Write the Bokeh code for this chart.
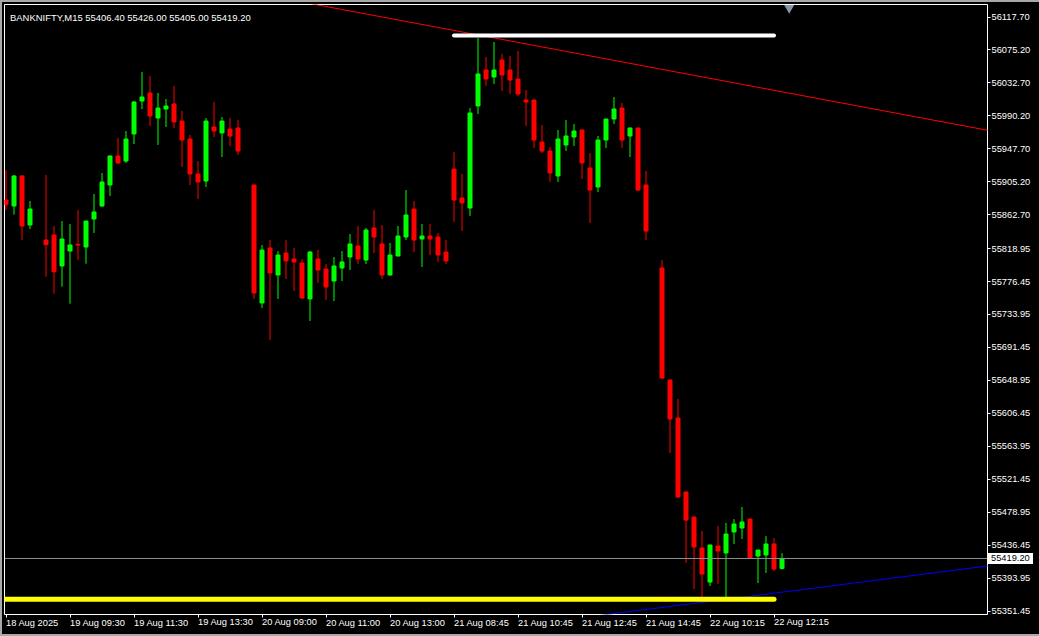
import math
from bokeh.plotting import figure
from bokeh.models import Range1d, FixedTicker, NumeralTickFormatter, Span, Label, ColumnDataSource, Div
from bokeh.embed import file_html
from bokeh.resources import INLINE

NAN = float("nan")

# BANKNIFTY M15 candles (index = bar number); NaN = doji bars drawn invisibly
opens = [55881.6, 55873.9, 55912.6, 55849.4, NAN, 55830.0, 55836.5, 55796.5, 55815.8, 55824.5,
         55821.0, 55857.1, 55873.9, 55901.0, 55938.4, 55931.9, 55966.8, 56009.3, 56019.7, 55987.4,
         55999.0, 56005.5, 55983.5, 55960.3, 55915.2, 55906.1, 55975.8, 55968.1, 55973.2, 55974.5,
         NAN, 55901.0, 55748.8, 55819.7, 55784.9, 55813.3, 55805.5, 55800.4, 55754.0, 55805.5,
         55792.6, 55777.1, 55793.9, 55808.1, 55822.3, 55804.2, 55845.5, 55824.9, 55784.9, 55809.4,
         55833.9, 55870.0, 55831.3, 55835.2, 55833.9, 55814.5, 55921.6, 55884.2, 55871.3, 56002.9,
         56049.3, 56040.3, 56062.2, 56049.3, 56037.7, 56010.6, 56010.6, 55956.4, 55944.8, 55912.6,
         55952.6, 55962.9, 55971.9, 55922.9, 55898.4, 55959.0, 55986.1, 56000.3, 55964.2, 55974.5,
         55901.0, NAN, 55793.9, 55649.4, 55600.4, 55505.0, 55472.7, 55432.7, 55388.8, 55435.3,
         55426.3, 55453.4, 55458.5, 55470.1, 55422.4, 55423.7, 55437.9, 55406.4]
highs = [55920.3, 55913.9, 55913.9, 55880.3, NAN, 55913.9, 55848.1, 55854.5, 55850.7, 55868.7,
         55855.0, 55889.4, 55916.5, 55939.0, 55961.6, 55970.6, 56009.0, 56046.8, 56041.6, 56019.7,
         56011.9, 56028.7, 55996.4, 55965.5, 55931.9, 55987.4, 56008.1, 55988.7, 55987.4, 55984.8,
         NAN, 55901.5, 55823.6, 55830.0, 55815.8, 55830.0, 55819.7, 55805.5, 55815.8, 55817.1,
         55799.1, 55808.1, 55815.8, 55837.8, 55848.1, 55845.5, 55868.7, 55849.4, 55826.2, 55848.1,
         55894.5, 55880.3, 55850.7, 55850.7, 55839.1, 55830.0, 55943.6, 55915.2, 56000.3, 56090.6,
         56066.1, 56085.5, 56070.0, 56067.4, 56073.8, 56023.5, 56011.0, 55978.4, 55950.0, 55971.9,
         55984.8, 55979.7, 55972.5, 55942.3, 55964.2, 55986.5, 56014.5, 56006.8, 55975.0, 55975.0,
         55919.0, NAN, 55804.2, 55649.5, 55624.9, 55505.5, 55473.0, 55454.6, 55437.0, 55461.1,
         55465.0, 55470.1, 55485.6, 55470.5, 55430.5, 55448.2, 55445.6, 55426.0]
lows = [55868.7, 55862.7, 55830.0, 55844.2, NAN, 55782.7, 55760.8, 55769.8, 55747.9, 55804.6,
        55799.5, 55839.1, 55873.0, 55886.8, 55928.1, 55929.4, 55953.9, 55999.0, 55977.1, 55952.6,
        55975.8, 55974.5, 55924.2, 55901.0, 55882.9, 55898.4, 55962.9, 55937.1, 55951.3, 55939.7,
        NAN, 55754.0, 55742.3, 55701.0, 55754.0, 55779.7, 55764.2, 55754.0, 55725.5, 55774.6,
        55752.6, 55751.3, 55777.1, 55791.3, 55799.1, 55799.1, 55813.3, 55779.7, 55784.0, 55809.0,
        55830.0, 55814.5, 55795.2, 55810.7, 55801.7, 55799.1, 55853.3, 55841.6, 55861.0, 55992.6,
        56028.7, 56031.3, 56022.2, 56018.4, 56015.8, 55977.1, 55948.7, 55942.3, 55904.9, 55904.9,
        55944.8, 55951.3, 55908.7, 55852.0, 55892.0, 55948.7, 55979.7, 55948.7, 55937.1, 55893.2,
        55830.0, NAN, 55650.7, 55555.3, 55498.0, 55413.4, 55379.8, 55369.5, 55383.7, 55386.3,
        55369.5, 55437.9, 55444.3, 55419.0, 55387.5, 55400.5, 55403.0, 55405.0]
closes = [55875.6, 55912.6, 55848.1, 55870.0, NAN, 55824.0, 55789.1, 55831.3, 55823.6, 55823.5,
          55854.5, 55866.2, 55904.9, 55938.4, 55929.4, 55960.3, 56008.1, 56014.5, 55990.0, 56000.3,
          56002.9, 55982.3, 55959.0, 55915.2, 55904.9, 55983.5, 55970.6, 55983.5, 55964.2, 55944.8,
          NAN, 55761.7, 55817.1, 55787.5, 55810.7, 55803.0, 55801.7, 55755.2, 55814.5, 55791.3,
          55769.4, 55796.5, 55801.7, 55824.9, 55805.5, 55842.9, 55833.9, 55784.9, 55810.7, 55835.2,
          55862.3, 55830.0, 55835.2, 55831.3, 55810.7, 55803.0, 55881.6, 55877.8, 55993.9, 56044.2,
          56037.7, 56049.3, 56042.9, 56036.4, 56018.4, 56008.1, 55959.0, 55944.8, 55916.5, 55960.3,
          55964.2, 55970.6, 55929.4, 55894.5, 55959.0, 55986.1, 55999.0, 55959.0, 55974.5, 55894.5,
          55841.6, NAN, 55652.0, 55599.1, 55498.5, 55468.8, 55434.0, 55399.2, 55436.6, 55428.8,
          55450.8, 55463.7, 55466.3, 55419.8, 55430.1, 55437.9, 55405.6, 55419.2]

tick_bars = [0, 8, 16, 24, 32, 40, 48, 56, 64, 72, 80, 88, 96]
tick_labels = ["18 Aug 2025", "19 Aug 09:30", "19 Aug 11:30", "19 Aug 13:30", "20 Aug 09:00",
               "20 Aug 11:00", "20 Aug 13:00", "21 Aug 08:45", "21 Aug 10:45", "21 Aug 12:45",
               "21 Aug 14:45", "22 Aug 10:15", "22 Aug 12:15"]
price_ticks = [56117.70, 56075.20, 56032.70, 55990.20, 55947.70, 55905.20, 55862.70, 55818.95,
               55776.45, 55733.95, 55691.45, 55648.95, 55606.45, 55563.95, 55521.45, 55478.95,
               55436.45, 55393.95, 55351.45]

symbol = "BANKNIFTY,M15"
last_price = 55419.20

# drawn objects (bar index, price)
red_trend_x = [41.9, 122.7]
red_trend_y = [56127.6, 55971.6]
blue_trend_x = [76.9, 122.7]
blue_trend_y = [55349.3, 55409.5]
white_level = 56093.8
white_span = [56, 96]
yellow_level = 55366.5
yellow_span = [-3, 96]

UP = "#00ff00"
DOWN = "#ff0000"
FONT = "Liberation Sans"
FS = "9.3px"

n = len(opens)
bars = list(range(n))
colors = [UP if (not math.isnan(o)) and c >= o else DOWN for o, c in zip(opens, closes)]
tops = [max(o, c) for o, c in zip(opens, closes)]
bottoms = [min(o, c) for o, c in zip(opens, closes)]
src = ColumnDataSource(dict(x=bars, o=opens, h=highs, l=lows, c=closes,
                            top=tops, bottom=bottoms, color=colors))

Y0, Y1 = 55346.94, 56133.83
p = figure(width=1039, height=636,
           x_range=Range1d(-0.1875, 122.6875), y_range=Range1d(Y0, Y1),
           output_backend="svg", toolbar_location=None, y_axis_location="right",
           min_border_left=4, min_border_top=4, min_border_right=52, min_border_bottom=22,
           background_fill_color="black", border_fill_color="black",
           outline_line_color="white", outline_line_width=1)
p.styles = {"position": "absolute", "left": "0px", "top": "0px"}
p.grid.visible = False

def extend(xs, ys, x_from, x_to):
    s = (ys[1] - ys[0]) / (xs[1] - xs[0])
    return [x_from, x_to], [ys[0] + s * (x_from - xs[0]), ys[0] + s * (x_to - xs[0])]

# trend lines
rx, ry = extend(red_trend_x, red_trend_y, 30, 130)
p.line(rx, ry, line_color="#ff0000", line_width=1)
bx, by = extend(blue_trend_x, blue_trend_y, 60, 130)
p.line(bx, by, line_color="#0000ff", line_width=1)

# current price line
p.add_layout(Span(location=last_price, dimension="width", line_color="#8a8f94", line_width=1))

# candles
p.segment(x0="x", y0="l", x1="x", y1="h", line_color="color", line_width=1, source=src)
p.vbar(x="x", width=0.5, top="top", bottom="bottom", fill_color="color",
       line_color="color", line_width=1, source=src)

# horizontal levels
p.line(white_span, [white_level, white_level], line_color="white", line_width=4, line_cap="round")
p.line(yellow_span, [yellow_level, yellow_level], line_color="#ffff00", line_width=5, line_cap="round")

# chart shift marker
p.scatter([97.9], [56129.3], marker="inverted_triangle", size=10,
          fill_color="#8796a5", line_color=None)

# axes
xa = p.xaxis[0]
xa.ticker = FixedTicker(ticks=tick_bars)
xa.major_label_overrides = {t: l for t, l in zip(tick_bars, tick_labels)}
xa.major_label_orientation = -1e-7
xa.major_label_standoff = 5
ya = p.yaxis[0]
ya.ticker = FixedTicker(ticks=price_ticks)
ya.formatter = NumeralTickFormatter(format="0.00")
ya.major_label_standoff = 1
for ax in (xa, ya):
    ax.axis_line_color = None
    ax.major_tick_line_color = "white"
    ax.major_tick_out = 3
    ax.major_tick_in = 0
    ax.minor_tick_line_color = None
    ax.major_label_text_color = "white"
    ax.major_label_text_font = FONT
    ax.major_label_text_font_size = FS

# header text
p.add_layout(Label(x=0.5, y=price_ticks[0],
                   text=f"{symbol}  {opens[-1]:.2f} {highs[-1]:.2f} {lows[-1]:.2f} {closes[-1]:.2f}",
                   text_color="white", text_font=FONT, text_font_size="9.45px",
                   text_align="left", text_baseline="alphabetic"))

# last price box on the price axis (outside the frame, so it is a small DOM element)
frame_top, frame_h = 4, 610
box_mid = frame_top + (Y1 - last_price) / (Y1 - Y0) * frame_h
price_box = Div(text=f"{last_price:.2f}",
                styles={"position": "absolute", "left": "987px", "top": f"{box_mid - 5.5:.1f}px",
                        "width": "46px", "height": "11px", "line-height": "11px",
                        "background-color": "white", "color": "black",
                        "font-family": FONT, "font-size": FS, "padding-left": "4px",
                        "box-sizing": "border-box", "white-space": "nowrap", "z-index": "10",
                        "overflow": "hidden"})

# thin grey window edges (top, left, bottom)
def edge(left, top, w, h):
    return Div(text="", styles={"position": "absolute", "left": f"{left}px", "top": f"{top}px",
                                "width": f"{w}px", "height": f"{h}px",
                                "background-color": "#a8a8a8", "z-index": "10"})

if "elements" in p.properties():
    p.elements = [price_box, edge(0, 0, 1039, 2), edge(0, 0, 2, 636), edge(0, 634, 1039, 2)]

open("out.html", "w").write(file_html(p, INLINE))
